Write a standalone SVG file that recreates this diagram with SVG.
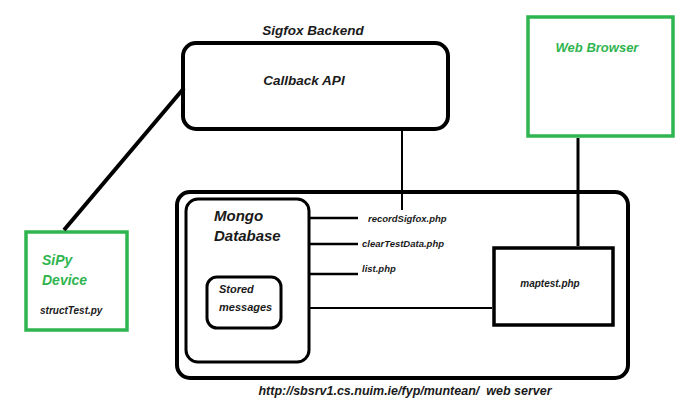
<svg xmlns="http://www.w3.org/2000/svg" width="694" height="411" viewBox="0 0 694 411">
<style>
text{font-family:"Liberation Sans",Arial,sans-serif;font-weight:bold;font-style:italic;fill:#1a1a1a}
.g{fill:#2fb54f}
.box{fill:#fff;stroke:#000}
.gbox{fill:#fff;stroke:#2fb54f;stroke-width:3.5}
.ln{stroke:#000;fill:none}
</style>
<rect width="694" height="411" fill="#fff"/>
<g id="callback-api">
<rect class="box" x="183" y="43" width="265" height="86" rx="13" stroke-width="4"/>
<text x="313" y="35" font-size="13.5" text-anchor="middle">Sigfox Backend</text>
<text x="304" y="85" font-size="13.5" text-anchor="middle">Callback API</text>
</g>
<g id="web-server">
<rect class="box" x="177" y="192" width="451" height="186" rx="13" stroke-width="4"/>
<text x="405" y="395" font-size="12.5" text-anchor="middle" xml:space="preserve">http://sbsrv1.cs.nuim.ie/fyp/muntean/  web server</text>
</g>
<g id="endpoints">
<line class="ln" x1="309" y1="218" x2="358" y2="218" stroke-width="2.5"/>
<line class="ln" x1="309" y1="244" x2="358" y2="244" stroke-width="2.5"/>
<line class="ln" x1="309" y1="274" x2="358" y2="274" stroke-width="2.5"/>
<text x="368" y="222" font-size="9.5">recordSigfox.php</text>
<text x="362" y="247" font-size="9.5">clearTestData.php</text>
<text x="362" y="272" font-size="9.5">list.php</text>
</g>
<g id="mongo-database">
<rect class="box" x="186" y="199" width="123" height="163" rx="12" stroke-width="3"/>
<text x="214" y="221" font-size="15">Mongo</text>
<text x="214" y="241" font-size="15">Database</text>
</g>
<g id="stored-messages">
<rect class="box" x="207" y="277" width="74" height="51" rx="10" stroke-width="3"/>
<text x="219" y="293" font-size="11">Stored</text>
<text x="219" y="311" font-size="11">messages</text>
</g>
<g id="maptest">
<rect class="box" x="494" y="248" width="119" height="77" stroke-width="3.5"/>
<text x="550" y="287" font-size="10" text-anchor="middle">maptest.php</text>
</g>
<g id="web-browser">
<rect class="gbox" x="528" y="17" width="145" height="119"/>
<text class="g" x="597" y="52" font-size="13" text-anchor="middle">Web Browser</text>
</g>
<g id="sipy-device">
<rect class="gbox" x="26" y="232" width="101" height="98"/>
<text class="g" x="42" y="265" font-size="14">SiPy</text>
<text class="g" x="42" y="285" font-size="14">Device</text>
<text x="40" y="314" font-size="10">structTest.py</text>
</g>
<g id="connectors">
<line class="ln" x1="64" y1="230" x2="184" y2="88" stroke-width="4"/>
<line class="ln" x1="402" y1="131" x2="402" y2="210" stroke-width="2"/>
<line class="ln" x1="578" y1="138" x2="578" y2="246" stroke-width="3"/>
<line class="ln" x1="310" y1="308" x2="492" y2="308" stroke-width="2"/>
</g>
</svg>
